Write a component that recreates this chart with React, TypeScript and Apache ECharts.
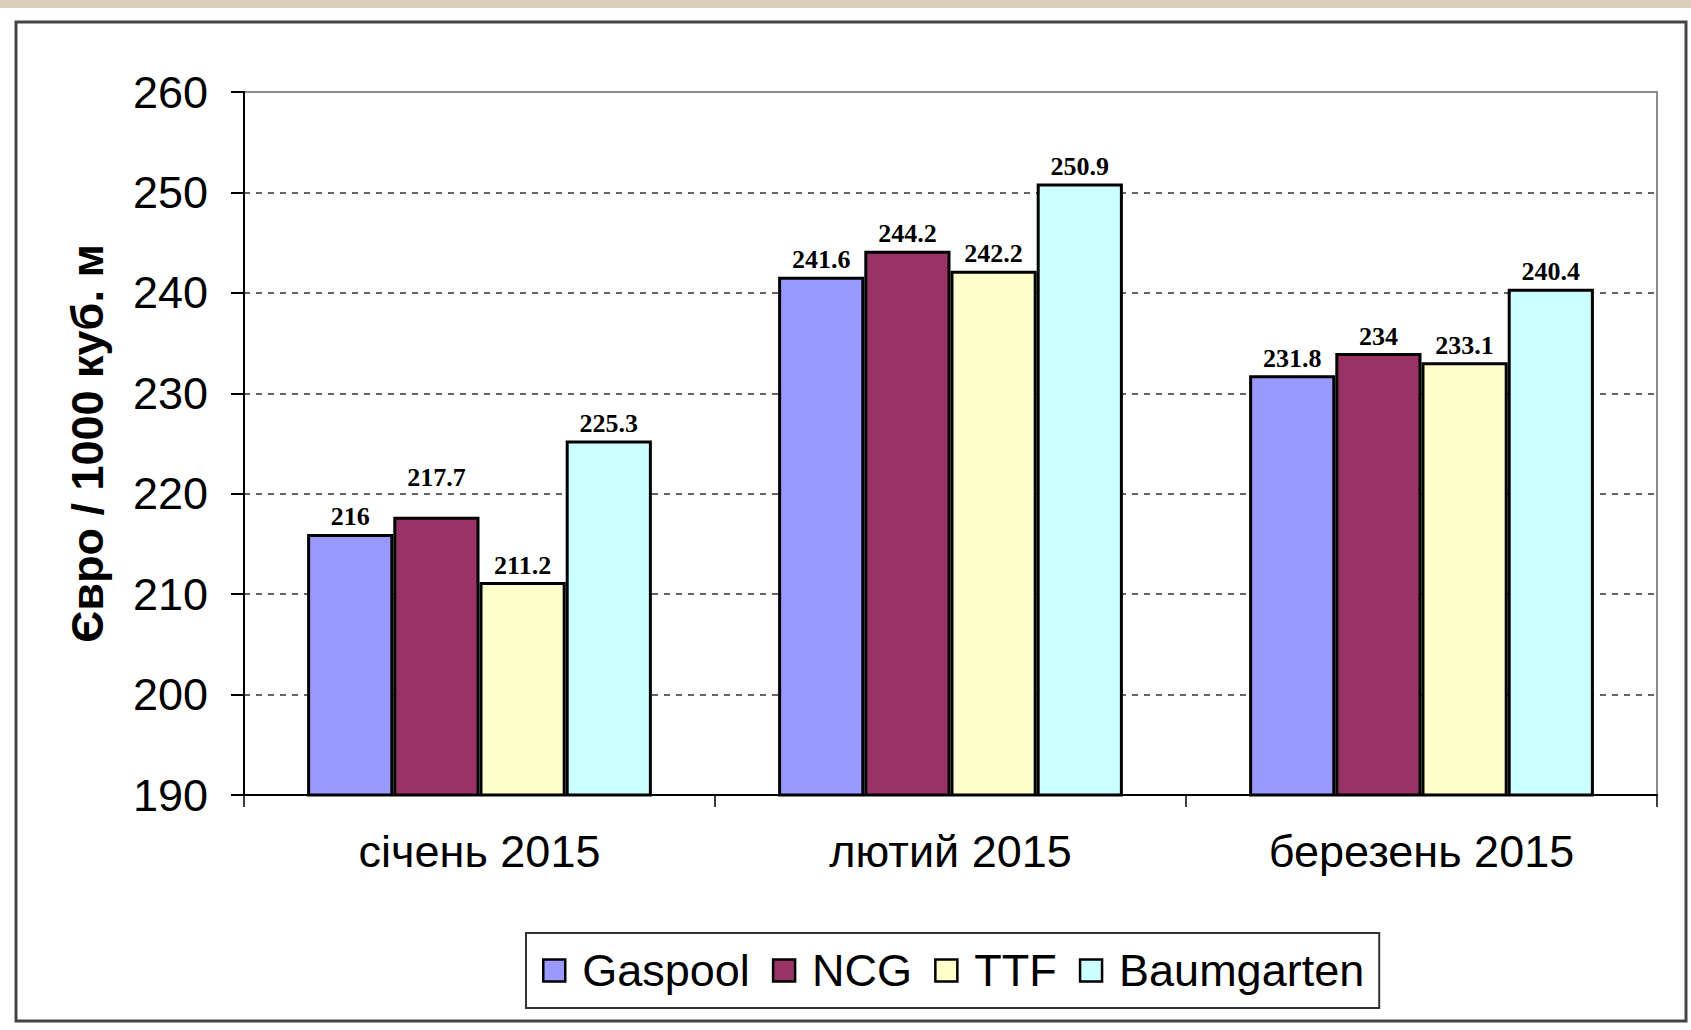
import React, { useEffect, useRef } from "react";
import * as echarts from "echarts";

const categories = ["січень 2015", "лютий 2015", "березень 2015"];
const seriesNames = ["Gaspool", "NCG", "TTF", "Baumgarten"];
const gaspool = [216, 241.6, 231.8];
const ncg = [217.7, 244.2, 234];
const ttf = [211.2, 242.2, 233.1];
const baumgarten = [225.3, 250.9, 240.4];
const colors = ["#9999FF", "#993366", "#FFFFCC", "#CCFFFF"];
const yMin = 190;
const yMax = 260;
const yStep = 10;
const yAxisName = "Євро / 1000 куб. м";

const W = 1691;
const H = 1030;

export default function App() {
  const ref = useRef<HTMLDivElement>(null);
  useEffect(() => {
    if (!ref.current) return;
    const chart = echarts.init(ref.current, null, { renderer: "svg" });
    const values = [gaspool, ncg, ttf, baumgarten];
    const series = values.map((vals, i) => ({
      name: seriesNames[i],
      type: "bar",
      data: vals.map((v, j) =>
        i === 1 && j === 0 ? { value: v, label: { offset: [0, -22] } } : v
      ),
      barGap: "0%",
      barCategoryGap: "26.8%",
      itemStyle: { color: colors[i], borderColor: "#000", borderWidth: 3 },
      label: {
        show: true,
        position: "top",
        distance: 4,
        fontFamily: "Liberation Serif",
        fontWeight: "bold",
        fontSize: 26,
        color: "#000",
      },
    }));
    chart.setOption({
      animation: false,
      backgroundColor: "#fff",
      grid: {
        left: 244,
        right: 34,
        top: 92,
        bottom: 235,
        show: true,
        borderColor: "#8c8c8c",
        borderWidth: 2,
        backgroundColor: "#fff",
      },
      legend: {
        left: 526,
        top: 933,
        data: seriesNames,
        icon: "rect",
        itemWidth: 22,
        itemHeight: 22,
        itemGap: 22,
        padding: [15, 15, 15, 16],
        borderColor: "#333",
        borderWidth: 2,
        itemStyle: { borderColor: "#000", borderWidth: 2.5 },
        textStyle: {
          fontFamily: "Liberation Sans",
          fontSize: 45,
          color: "#000",
          padding: [0, 0, 0, 12],
        },
      },
      xAxis: {
        type: "category",
        data: categories,
        axisLine: { lineStyle: { color: "#000", width: 2 } },
        axisTick: { show: true, length: 12, lineStyle: { color: "#000", width: 1.5 } },
        axisLabel: {
          fontFamily: "Liberation Sans",
          fontSize: 45,
          color: "#000",
          margin: 34,
        },
      },
      yAxis: {
        type: "value",
        min: yMin,
        max: yMax,
        interval: yStep,
        name: yAxisName,
        nameLocation: "middle",
        nameGap: 134,
        nameRotate: 90,
        nameTextStyle: {
          fontFamily: "Liberation Sans",
          fontWeight: "bold",
          fontSize: 45,
          color: "#000",
        },
        axisLine: { show: true, lineStyle: { color: "#000", width: 2 } },
        axisTick: { show: true, length: 13, lineStyle: { color: "#000", width: 2 } },
        axisLabel: {
          fontFamily: "Liberation Sans",
          fontSize: 45,
          color: "#000",
          margin: 36,
        },
        splitLine: {
          show: true,
          showMinLine: false,
          showMaxLine: false,
          lineStyle: { color: "#333", width: 1.5, type: [6, 6] },
        },
      },
      graphic: [
        {
          type: "rect",
          shape: { x: 0, y: 0, width: W, height: 8 },
          style: { fill: "#d9cfb8" },
          silent: true,
        },
        {
          type: "rect",
          shape: { x: 16, y: 22, width: 1670, height: 999 },
          style: { fill: "none", stroke: "#444", lineWidth: 3 },
          silent: true,
          z: 100,
        },
      ],
      series,
    });
    return () => chart.dispose();
  }, []);
  return (
    <div
      ref={ref}
      style={{ position: "fixed", left: 0, top: 0, width: W, height: H }}
    />
  );
}
